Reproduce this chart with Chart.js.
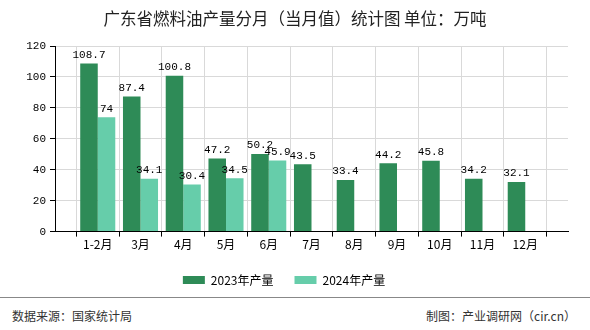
<!DOCTYPE html>
<html>
<head>
<meta charset="utf-8">
<script src="https://cdn.jsdelivr.net/npm/chart.js@4.4.1/dist/chart.umd.min.js"></script>
<style>
  body { margin: 0; background: #fff; font-family: "Noto Sans CJK SC", sans-serif; }
  #wrap { position: relative; width: 590px; height: 330px; overflow: hidden; }
  #title { position: absolute; top: 6px; left: 0; width: 590px; text-align: center; font-size: 16.5px; color: #222; }
  #chart-box { position: absolute; top: 0; left: 0; width: 590px; height: 298px; }
  #footer-line { position: absolute; top: 297px; left: 0; width: 590px; height: 1px; background: #888; }
  .foot { position: absolute; top: 307px; font-size: 12px; color: #333; }
</style>
</head>
<body>
<div id="wrap">
  <div id="chart-box"><canvas id="chart"></canvas></div>
  <div id="title">广东省燃料油产量分月（当月值）统计图 单位：万吨</div>
  <div id="footer-line"></div>
  <div class="foot" style="left:12px">数据来源：国家统计局</div>
  <div class="foot" style="right:14px">制图：产业调研网（cir.cn）</div>
</div>
<script>
// ------------------ DATA ------------------
const categories = ["1-2月", "3月", "4月", "5月", "6月", "7月", "8月", "9月", "10月", "11月", "12月"];
const output2023 = [108.7, 87.4, 100.8, 47.2, 50.2, 43.5, 33.4, 44.2, 45.8, 34.2, 32.1];
const output2024 = [74, 34.1, 30.4, 34.5, 45.9, null, null, null, null, null, null];
const seriesNames = ["2023年产量", "2024年产量"];
const yMin = 0, yMax = 120, yStep = 20;

// empty slot at each end, like the original axis
const labels = ["", ...categories, ""];
const pad = arr => [null, ...arr, null];

// ------------------ VALUE LABELS ------------------
const valueLabels = {
    id: "valueLabels",
    afterDatasetsDraw(chart) {
        const ctx = chart.ctx;
        ctx.save();
        ctx.font = "11px 'Liberation Mono', monospace";
        ctx.fillStyle = "#000";
        ctx.textAlign = "center";
        ctx.textBaseline = "bottom";
        chart.data.datasets.forEach((ds, i) => {
            const meta = chart.getDatasetMeta(i);
            meta.data.forEach((bar, j) => {
                const v = ds.data[j];
                if (v === null || v === undefined) return;
                ctx.fillText(String(v), bar.x, bar.y - 3);
            });
        });
        ctx.restore();
    }
};

new Chart(document.getElementById("chart"), {
    type: "bar",
    data: {
        labels: labels,
        datasets: [
            { label: seriesNames[0], data: pad(output2023), backgroundColor: "#2E8B57" },
            { label: seriesNames[1], data: pad(output2024), backgroundColor: "#66CDAA" }
        ]
    },
    options: {
        responsive: true,
        maintainAspectRatio: false,
        animation: false,
        layout: { padding: { top: 46, right: 22, bottom: 2, left: 0 } },
        datasets: { bar: { categoryPercentage: 0.82, barPercentage: 1 } },
        plugins: {
            legend: {
                position: "bottom",
                labels: {
                    boxWidth: 22,
                    boxHeight: 8,
                    color: "#000",
                    padding: 21,
                    font: { size: 12, family: "'Noto Sans CJK SC', sans-serif" }
                }
            },
            tooltip: { enabled: false }
        },
        scales: {
            x: {
                offset: false,
                grid: { color: "#d9d9d9", tickColor: "#000", tickLength: 5 },
                border: { color: "#000" },
                ticks: {
                    color: "#000",
                    autoSkip: false,
                    maxRotation: 0,
                    padding: 1,
                    font: { size: 12, family: "'Noto Sans CJK SC', sans-serif" }
                }
            },
            y: {
                min: yMin,
                max: yMax,
                grid: { color: "#d9d9d9", tickColor: "#000", tickLength: 5 },
                border: { color: "#000" },
                ticks: {
                    stepSize: yStep,
                    color: "#000",
                    padding: 4,
                    font: { size: 11, family: "'Liberation Mono', monospace" }
                },
                afterFit(scale) { scale.width = 55; }
            }
        }
    },
    plugins: [valueLabels]
});
</script>
</body>
</html>
